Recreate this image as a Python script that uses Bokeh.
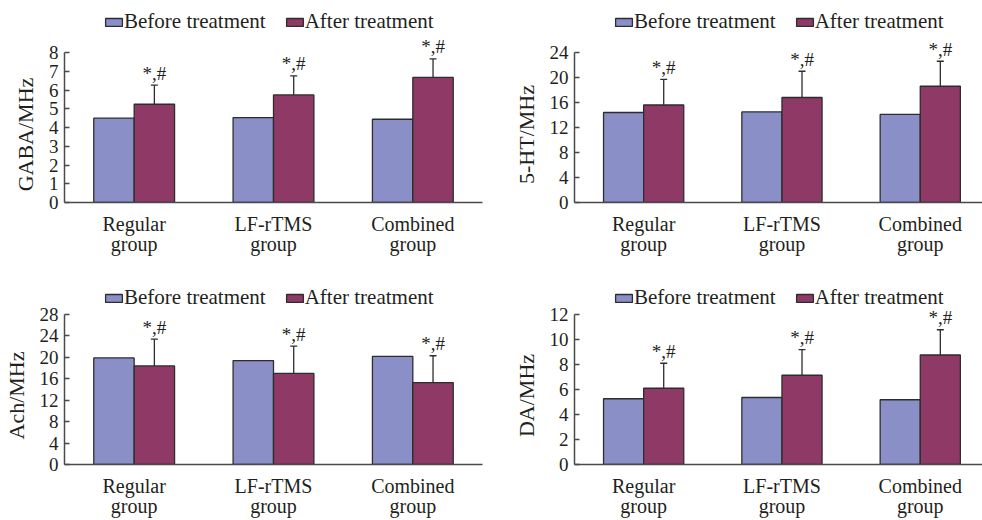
from bokeh.plotting import figure
from bokeh.models import (ColumnDataSource, Range1d, FixedTicker, Whisker, TeeHead,
                          Legend, LegendItem)
from bokeh.layouts import column, row
from bokeh.transform import dodge
from bokeh.embed import file_html
from bokeh.resources import INLINE
from bokeh.core.properties import value

# ---------------- data ----------------
groups = ["Regular group", "LF-rTMS group", "Combined group"]
series = ["Before treatment", "After treatment"]
marker = "*,#"

gaba_before = [4.50, 4.53, 4.44]
gaba_after = [5.24, 5.74, 6.67]
gaba_sd = [1.02, 1.01, 0.99]

ht_before = [14.4, 14.5, 14.1]
ht_after = [15.6, 16.8, 18.6]
ht_sd = [4.1, 4.2, 4.0]

ach_before = [19.9, 19.4, 20.2]
ach_after = [18.4, 17.0, 15.3]
ach_sd = [5.0, 5.1, 5.0]

da_before = [5.26, 5.36, 5.18]
da_after = [6.10, 7.14, 8.76]
da_sd = [2.00, 2.05, 2.02]

# ---------------- style ----------------
FONT = "Liberation Serif"
BLUE = "#8a8fc7"
PURPLE = "#8e3966"
EDGE = "#2d2d2d"
AXIS = "#4a4a4a"
TEXT = "#231f20"
BW = 0.29
LEG_H = 22
NBSP = "\u00a0"


def panel(ylabel, before, after, sd, ymax, ystep, width, height,
          frame_left, frame_width, axis_top, axis_height, legend_cy, x_end):
    centers = [i + 0.5 for i in range(len(groups))]
    src = ColumnDataSource(dict(
        x=centers, before=before, after=after,
        top=[a + s for a, s in zip(after, sd)],
        mark=[marker] * len(groups)))

    # frame reaches the top of the canvas; the value axis is bounded to [0, ymax]
    y_end = ymax * (axis_height + axis_top) / axis_height
    p = figure(width=width, height=height,
               x_range=Range1d(0, x_end), y_range=Range1d(0, y_end),
               output_backend="svg", toolbar_location=None,
               min_border_left=frame_left,
               min_border_right=width - frame_left - frame_width,
               min_border_top=0,
               min_border_bottom=height - axis_top - axis_height)
    p.outline_line_color = None
    p.xgrid.visible = False
    p.ygrid.visible = False

    rb = p.vbar(x=dodge("x", -BW / 2), top="before", width=BW, source=src,
                fill_color=BLUE, line_color=EDGE, line_width=1.3)
    ra = p.vbar(x=dodge("x", BW / 2), top="after", width=BW, source=src,
                fill_color=PURPLE, line_color=EDGE, line_width=1.3)

    w = Whisker(source=src, base=dodge("x", BW / 2), upper="top", lower="after",
                dimension="height", line_color=EDGE, line_width=1.3,
                upper_head=TeeHead(size=7, line_color=EDGE, line_width=1.3),
                lower_head=None)
    p.add_layout(w)

    p.text(x=dodge("x", BW / 2), y="top", text="mark", source=src,
           text_font=value(FONT), text_font_size="19px", text_color=TEXT,
           text_align="center", text_baseline="alphabetic", y_offset=-12)

    # y axis (label padded so that it centres on the bounded axis, not the frame)
    ya = p.yaxis[0]
    ya.bounds = (0, ymax)
    ya.ticker = FixedTicker(ticks=list(range(0, ymax + 1, ystep)))
    ya.axis_label = ylabel + NBSP * 12
    ya.axis_label_text_font = FONT
    ya.axis_label_text_font_size = "22px"
    ya.axis_label_text_font_style = "normal"
    ya.axis_label_text_color = TEXT
    ya.axis_label_standoff = 8
    ya.major_label_text_font = FONT
    ya.major_label_text_font_size = "19px"
    ya.major_label_text_color = TEXT
    ya.major_label_standoff = 6
    ya.major_tick_in = 5
    ya.major_tick_out = 0
    ya.minor_tick_in = 0
    ya.minor_tick_out = 0
    ya.axis_line_color = AXIS
    ya.axis_line_width = 1.5
    ya.major_tick_line_color = AXIS
    ya.major_tick_line_width = 1.3

    # x axis
    xa = p.xaxis[0]
    xa.ticker = FixedTicker(ticks=centers)
    xa.major_label_overrides = {c: g.replace(" ", "\n") for c, g in zip(centers, groups)}
    xa.major_label_text_font = FONT
    xa.major_label_text_font_size = "20px"
    xa.major_label_text_color = TEXT
    xa.major_label_text_line_height = 0.95
    xa.major_label_standoff = 10
    xa.major_tick_in = 0
    xa.major_tick_out = 0
    xa.minor_tick_in = 0
    xa.minor_tick_out = 0
    xa.axis_line_color = AXIS
    xa.axis_line_width = 1.5

    frame_bottom = axis_top + axis_height
    vy = frame_bottom - legend_cy - LEG_H / 2
    legend = Legend(items=[LegendItem(label=series[0], renderers=[rb]),
                           LegendItem(label=series[1], renderers=[ra])],
                    location=(39, vy), orientation="horizontal",
                    glyph_width=21, glyph_height=10, label_standoff=0,
                    spacing=18, padding=0, margin=0,
                    border_line_color=None, background_fill_alpha=0,
                    label_text_font=FONT, label_text_font_size="21px",
                    label_text_color=TEXT, label_height=LEG_H)
    p.add_layout(legend)
    return p


LW, RW = 492, 490
TH, BH = 260, 260

p1 = panel("GABA/MHz", gaba_before, gaba_after, gaba_sd, 8, 1, LW, TH,
           64, 418, 52, 150, 23, 3)
p2 = panel("5-HT/MHz", ht_before, ht_after, ht_sd, 24, 4, RW, TH,
           82, 408, 52, 150, 23, 2.95)
p3 = panel("Ach/MHz", ach_before, ach_after, ach_sd, 28, 4, LW, BH,
           64, 418, 54, 150, 39, 3)
p4 = panel("DA/MHz", da_before, da_after, da_sd, 12, 2, RW, BH,
           82, 408, 54, 150, 39, 2.95)

layout = column(row(p1, p2), row(p3, p4))
open("out.html", "w").write(file_html(layout, INLINE))
